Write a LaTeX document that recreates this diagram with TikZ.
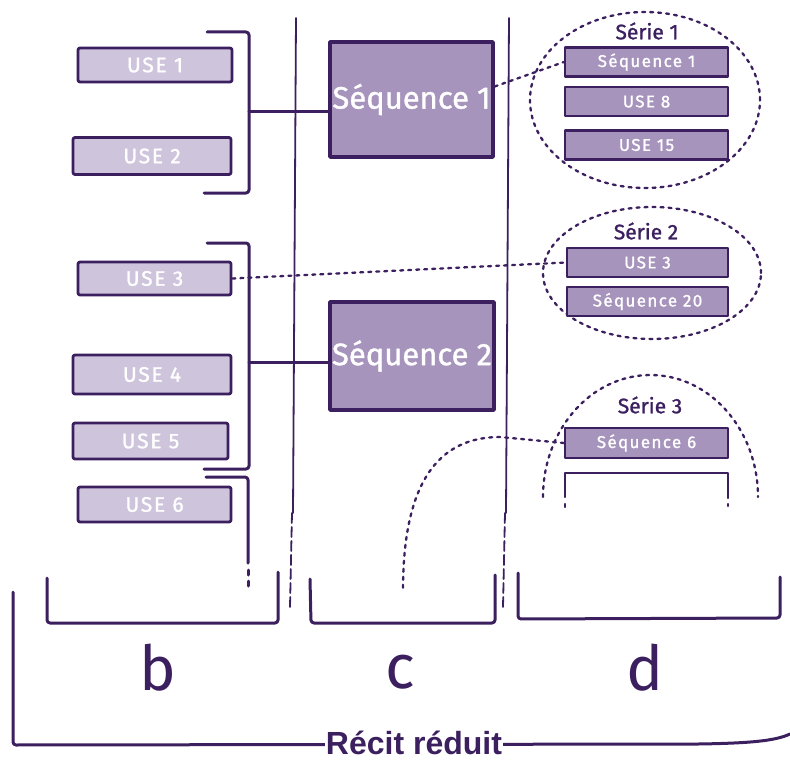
\documentclass[tikz,border=0pt]{standalone}
\usepackage{fontspec}
\setmainfont{Fira Sans}
\newfontfamily\boxfont[LetterSpace=8,FakeBold=1.2]{Fira Sans}
\newfontfamily\bigfont[FakeBold=1.2]{Fira Sans}
\newfontfamily\recitfont{Liberation Sans}
\usetikzlibrary{shapes.geometric,calc}
\definecolor{ink}{HTML}{3B1F5E}
\definecolor{lightp}{HTML}{CEC5DC}
\definecolor{midp}{HTML}{A694BD}
\begin{document}
\begin{tikzpicture}[x=1pt,y=-1pt,line join=round,line cap=round,
  lbox/.style={draw=ink,fill=lightp,line width=2.8pt,rounded corners=2pt,text=white,inner sep=0pt,font=\boxfont\fontsize{21}{21}\selectfont},
  bigbox/.style={draw=ink,fill=midp,line width=3.5pt,text=white,inner sep=0pt,font=\bigfont\fontsize{31}{31}\selectfont},
  sbox/.style={draw=ink,fill=midp,line width=2.2pt,text=white,inner sep=0pt,minimum width=163pt,minimum height=29pt,font=\boxfont\fontsize{17}{17}\selectfont},
  brk/.style={draw=ink,line width=3pt,rounded corners=3pt},
  col/.style={draw=ink,line width=1.8pt},
  coldash/.style={draw=ink,line width=1.8pt,dash pattern=on 10pt off 4pt},
  dots/.style={draw=ink,line width=2.3pt,dash pattern=on 3pt off 5pt},
  serie/.style={text=ink,inner sep=0pt,font=\bigfont\fontsize{21}{21}\selectfont},
  letter/.style={text=ink,inner sep=0pt,font=\fontsize{62}{62}\selectfont}]
\useasboundingbox (0,0) rectangle (790,760);

% column separators
\draw[col] (296,18) -- (293,513);
\draw[coldash] (292,513) -- (290,607);
\draw[col] (509,18) -- (506,513);
\draw[coldash] (505,513) -- (503,607);

% left USE boxes
\node[lbox,minimum width=154pt,minimum height=34pt] (u1) at (155,65) {USE 1};
\node[lbox,minimum width=158pt,minimum height=37pt] (u2) at (152,156) {USE 2};
\node[lbox,minimum width=153pt,minimum height=33pt] (u3) at (154.5,278.5) {USE 3};
\node[lbox,minimum width=158pt,minimum height=39pt] (u4) at (152,374.5) {USE 4};
\node[lbox,minimum width=155pt,minimum height=36pt] (u5) at (150.5,441) {USE 5};
\node[lbox,minimum width=153pt,minimum height=35pt] (u6) at (154.5,504.5) {USE 6};

% big sequence boxes
\node[bigbox,minimum width=163pt,minimum height=115pt] (q1) at (411.5,99.5) {Séquence 1};
\node[bigbox,minimum width=164pt,minimum height=108pt] (q2) at (412,356) {Séquence 2};

% brackets on the left
\coordinate (b1m) at (249,111);
\coordinate (b2m) at (249,362);
\draw[brk] (207,32) -- (249,32) -- (249,193) -- (204,193);
\draw[brk] (207,243) -- (249,243) -- (249,469) -- (204,469);
\draw[brk] (206,477) -- (248,477) -- (248,563);
\draw[draw=ink,line width=3pt,dash pattern=on 5pt off 6pt] (248,570) -- (248,590);
\draw[draw=ink,line width=3pt] (b1m) -- (b1m -| q1.west);
\draw[draw=ink,line width=3pt] (b2m) -- (b2m -| q2.west);

% series 1
\node[ellipse,dots,minimum width=230pt,minimum height=176pt] (e1) at (645,100) {};
\node[serie] (t1) at (647,31) {Série 1};
\node[sbox] (s1a) at (646.5,62) {Séquence 1};
\node[sbox] (s1b) at (646.5,101.5) {USE 8};
\node[sbox] (s1c) at (646.5,145) {USE 15};

% series 2
\node[ellipse,dots,minimum width=218pt,minimum height=132pt] (e2) at (652,273) {};
\node[serie] (t2) at (646,231) {Série 2};
\node[sbox,minimum width=161pt] (s2a) at (647.5,262.5) {USE 3};
\node[sbox,minimum width=161pt] (s2b) at (647.5,301.5) {Séquence 20};

% series 3
\draw[dots] (543,497) arc[start angle=180,end angle=360,x radius=107.5,y radius=122];
\node[serie] (t3) at (650,405) {Série 3};
\node[sbox,minimum height=30pt] (s3a) at (646.5,443) {Séquence 6};
\draw[draw=ink,line width=2.2pt] (565,497) -- (565,473) -- (728,473) -- (728,498);
\draw[dots] (565,504) -- (565,512);
\draw[dots] (728,504) -- (728,506);

% dotted links
\coordinate (q1r) at ($(q1.north east)!0.39!(q1.south east)$);
\draw[dots] (q1r) -- (s1a.west);
\draw[dots] (u3.east) -- (s2a.west);
\coordinate (cend) at (403,590);
\draw[dots] (s3a.west) -- (500,437) .. controls (440,437) and (403,480) .. (cend);

% bottom brackets
\draw[brk] (47,578) -- (47,623) -- (278,623) -- (278,572);
\draw[brk] (310,579) -- (311,623) -- (495,623) -- (495,575);
\draw[brk] (518,573) -- (518,619) -- (780,618) -- (780,577);
\node[letter] (lb) at (158,668) {b};
\node[letter] (lc) at (400,672) {c};
\node[letter] (ld) at (645,668) {d};

% Recit reduit
\draw[brk] (13,592) -- (13,745) -- (700,744) .. controls (750,743) and (775,741) .. (790,734);
\node[fill=white,text=ink,inner sep=1pt,font=\recitfont\bfseries\fontsize{32}{32}\selectfont] (rr) at (414,743) {Récit réduit};
\end{tikzpicture}
\end{document}
